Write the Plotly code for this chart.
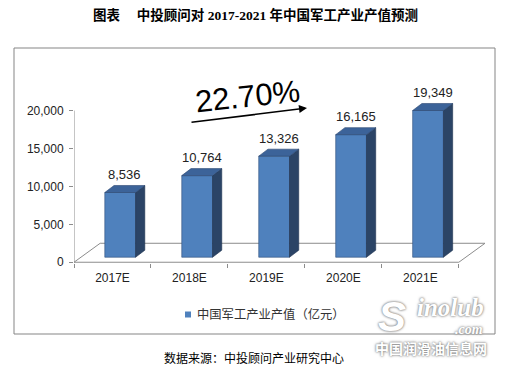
import plotly.graph_objects as go

# ---- data ----
categories = ["2017E", "2018E", "2019E", "2020E", "2021E"]
values = [8536, 10764, 13326, 16165, 19349]
series_name = "中国军工产业产值（亿元）"
growth_label = "22.70%"
y_ticks = [0, 5000, 10000, 15000, 20000]

title_text = "<b>图表\u00a0\u00a0\u00a0\u00a0\u00a0中投顾问对 2017-2021 年中国军工产业产值预测</b>"
source_text = "数据来源：中投顾问产业研究中心"

# ---- geometry / style ----
W, H = 515, 370
ML, MR, MT, MB = 74, 30, 81, 107
PW, PH = W - ML - MR, H - MT - MB
XR = [-0.5, 4.84]
YR = [-100, 23900]

BAR_W = 0.4
SHIFT = 0.1          # bar placed mid-depth of the floor
DX, DY = 0.12, 925   # 3D depth offset (x units, y units)
BASE = 660           # front face bottom sits mid-floor
FLOOR_DX, FLOOR_DY = 0.34, 2500

FRONT = "#4F81BD"
SIDE = "#2B4466"
TOP = "#3C6399"
EDGE = "#2F4F7A"
GRID = "#8C8C8C"
TXT = "#222222"


def px_x(p):
    return (p - ML) / PW


def px_y(p):
    return (H - MB - p) / PH


fig = go.Figure()

xs = [i + SHIFT for i in range(len(values))]

# front faces
fig.add_trace(go.Bar(
    x=xs, y=values, base=BASE, width=BAR_W, name=series_name,
    marker=dict(color=FRONT, line=dict(color=EDGE, width=0.6)),
    showlegend=False, hoverinfo="skip",
))

# side and top faces computed from the data
for x, v in zip(xs, values):
    xl, xr = x - BAR_W / 2, x + BAR_W / 2
    top = BASE + v
    fig.add_trace(go.Scatter(
        x=[xr, xr + DX, xr + DX, xr, xr],
        y=[BASE, BASE + DY, top + DY, top, BASE],
        mode="lines", fill="toself", fillcolor=SIDE,
        line=dict(color="#1F3350", width=0.6),
        showlegend=False, hoverinfo="skip",
    ))
    fig.add_trace(go.Scatter(
        x=[xl, xl + DX, xr + DX, xr, xl],
        y=[top, top + DY, top + DY, top, top],
        mode="lines", fill="toself", fillcolor=TOP,
        line=dict(color="#2A4770", width=0.6),
        showlegend=False, hoverinfo="skip",
    ))
    fig.add_annotation(
        x=x + DX / 2, y=top + DY, text=f"{v:,}", showarrow=False,
        xanchor="center", yanchor="middle",
        yshift=11, font=dict(family="Liberation Sans, Arial", size=13, color=TXT),
    )

# floor / axes lines
n = len(categories)
floor_lines = [
    (-0.5, 0, n - 0.5, 0),
    (-0.5, 0, -0.5 + FLOOR_DX, FLOOR_DY),
    (-0.5 + FLOOR_DX, FLOOR_DY, n - 0.5 + FLOOR_DX, FLOOR_DY),
    (n - 0.5, 0, n - 0.5 + FLOOR_DX, FLOOR_DY),
    (-0.5, 0, -0.5, y_ticks[-1]),
]
for x0, y0, x1, y1 in floor_lines:
    fig.add_shape(type="line", xref="x", yref="y", x0=x0, y0=y0, x1=x1, y1=y1,
                  line=dict(color=GRID, width=1), layer="below")

# outer frame
fig.add_shape(type="rect", xref="paper", yref="paper",
              x0=px_x(14), x1=px_x(495), y0=px_y(334), y1=px_y(48),
              line=dict(color="#858585", width=1), layer="below")

# legend (symbol + label)
fig.add_shape(type="rect", xref="paper", yref="paper",
              x0=px_x(185), x1=px_x(191), y0=px_y(317.5), y1=px_y(311.5),
              line=dict(width=0), fillcolor=FRONT)


def note(px, py, text, font, xanchor="center", **kw):
    fig.add_annotation(xref="paper", yref="paper", x=px_x(px), y=px_y(py),
                       text=text, showarrow=False, xanchor=xanchor,
                       yanchor="middle", font=font, **kw)


note(195, 314, series_name,
     dict(family="Noto Sans CJK SC", size=12.3, color="#333333"), xanchor="left")

# growth annotation with arrow
fig.add_annotation(
    xref="paper", yref="paper", x=px_x(307), y=px_y(108),
    ax=-117, ay=14.5, text="", showarrow=True,
    arrowhead=2, arrowsize=1, arrowwidth=1.6, arrowcolor="#000000",
)
note(247, 96, growth_label,
     dict(family="Liberation Sans, Arial", size=31, color="#000000"),
     textangle=-6)

# title & source
note(255, 15, title_text,
     dict(family="Liberation Serif, Noto Sans CJK SC", size=13.5, color="#000000"))
note(254, 357, source_text,
     dict(family="Noto Sans CJK SC", size=12, color="#000000"))

# watermark
wm_shadow = "0px 0px 3px #7a7a7a, 0px 0px 2px #9a9a9a"
note(392, 316, "<b><i>S</i></b>",
     dict(family="Liberation Sans", size=42, color="#ffffff", shadow=wm_shadow))
note(450, 307, "<b><i>inolub</i></b>",
     dict(family="Liberation Serif", size=25, color="#ffffff", shadow=wm_shadow))
note(469, 329, "<b><i>.com</i></b>",
     dict(family="Liberation Serif", size=14, color="#ffffff", shadow=wm_shadow))
note(431, 348, "<b>中国润滑油信息网</b>",
     dict(family="Noto Sans CJK SC", size=14, color="#ffffff", shadow=wm_shadow))

fig.update_layout(
    width=W, height=H,
    margin=dict(l=ML, r=MR, t=MT, b=MB, pad=0, autoexpand=False),
    paper_bgcolor="#ffffff", plot_bgcolor="#ffffff",
    barmode="overlay",
    showlegend=False,
    xaxis=dict(
        range=XR, showgrid=False, zeroline=False, showline=False,
        tickmode="array", tickvals=list(range(n)), ticktext=categories,
        ticks="", ticklabelstandoff=6,
        tickfont=dict(family="Liberation Sans, Arial", size=12, color=TXT),
        minor=dict(tickmode="array", tickvals=[i - 0.5 for i in range(n + 1)],
                   ticks="outside", ticklen=4, tickcolor=GRID, showgrid=False),
        fixedrange=True,
    ),
    yaxis=dict(
        range=YR, showgrid=False, zeroline=False, showline=False,
        tickmode="array", tickvals=y_ticks,
        ticktext=[f"{t:,}" for t in y_ticks],
        ticks="outside", ticklen=4, tickcolor=GRID, ticklabelstandoff=3,
        tickfont=dict(family="Liberation Sans, Arial", size=12, color=TXT),
        fixedrange=True,
    ),
)

fig.write_html("out.html", config={"displayModeBar": False},
               post_script="document.body.style.margin='0';")
